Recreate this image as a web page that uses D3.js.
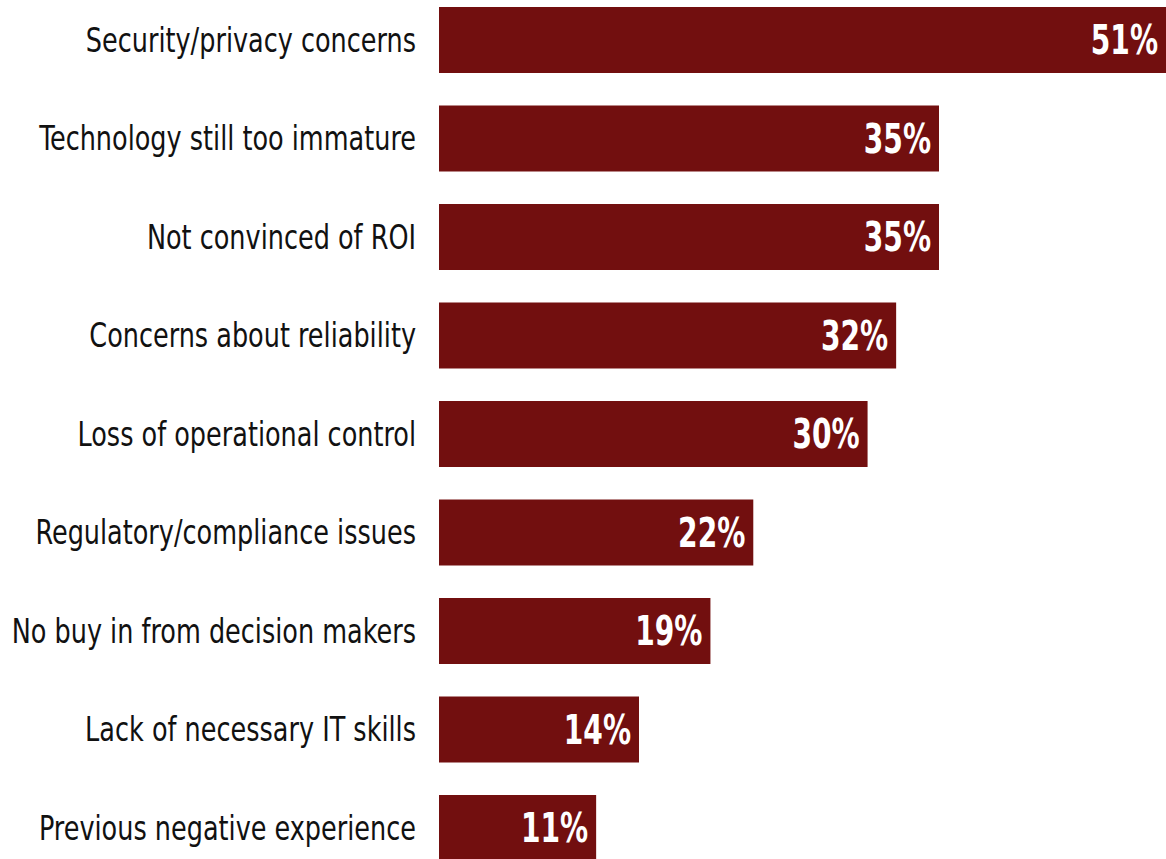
<!DOCTYPE html>
<html>
<head>
<meta charset="utf-8">
<script src="https://cdn.jsdelivr.net/npm/d3@7"></script>
<style>
  body { margin: 0; background: #fff; }
  svg { display: block; }
</style>
</head>
<body>
<div class="chart"></div>
<script>
const categories = [
  "Security/privacy concerns",
  "Technology still too immature",
  "Not convinced of ROI",
  "Concerns about reliability",
  "Loss of operational control",
  "Regulatory/compliance issues",
  "No buy in from decision makers",
  "Lack of necessary IT skills",
  "Previous negative experience"
];
const values = [51, 35, 35, 32, 30, 22, 19, 14, 11];

const width = 1166;
const height = 859;
// no narrow font installed, so the condensed DejaVu is squeezed a bit more
const font = "'DejaVu Sans Condensed', 'Liberation Sans Narrow', sans-serif";

const x = d3.scaleLinear()
  .domain([0, 35])
  .range([439, 939]);

const y = d3.scaleBand()
  .domain(categories)
  .range([7, 861])
  .paddingInner(0.33)
  .paddingOuter(0);

const svg = d3.select(".chart")
  .append("svg")
  .attr("width", width)
  .attr("height", height);

const rows = svg.selectAll("g.row")
  .data(categories.map((c, i) => ({ name: c, value: values[i] })))
  .enter()
  .append("g")
  .attr("class", "row");

rows.append("rect")
  .attr("x", x(0))
  .attr("y", d => y(d.name))
  .attr("width", d => x(d.value) - x(0))
  .attr("height", y.bandwidth())
  .attr("fill", "#720f0f");

rows.append("g")
  .attr("transform", d => `translate(416,${y(d.name) + y.bandwidth() / 2}) scale(0.86,1)`)
  .append("text")
  .attr("dy", "0.35em")
  .attr("text-anchor", "end")
  .style("font-family", font)
  .style("font-size", "33px")
  .attr("fill", "#111")
  .text(d => d.name);

rows.append("g")
  .attr("transform", d => `translate(${Math.min(x(d.value), width) - 8},${y(d.name) + y.bandwidth() / 2}) scale(0.78,1)`)
  .append("text")
  .attr("dy", "0.36em")
  .attr("text-anchor", "end")
  .style("font-family", font)
  .style("font-size", "40px")
  .style("font-weight", "bold")
  .attr("fill", "#fff")
  .text(d => d.value + "%");
</script>
</body>
</html>
